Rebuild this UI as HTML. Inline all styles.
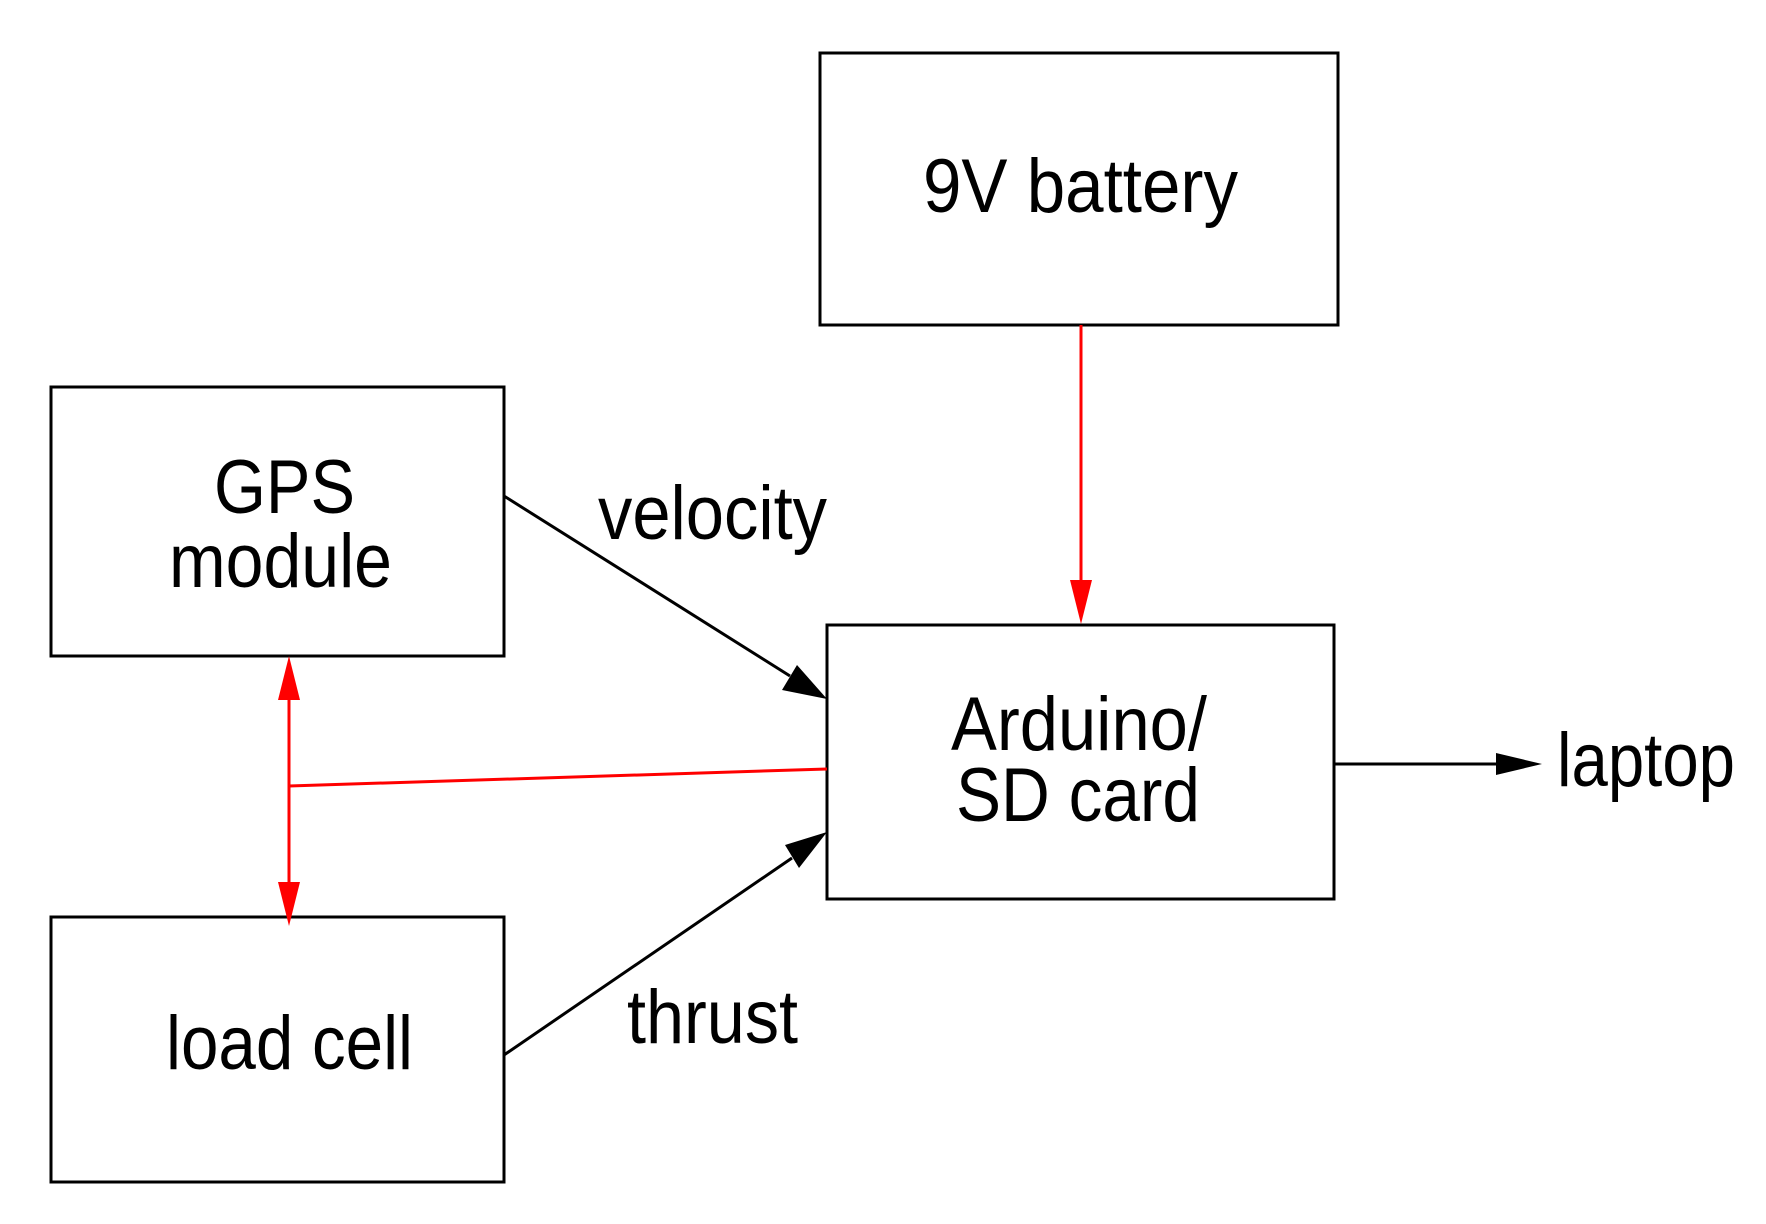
<!DOCTYPE html>
<html><head><style>html,body{margin:0;padding:0;background:#fff}</style></head><body>
<svg width="1766" height="1219" viewBox="0 0 1766 1219" xmlns="http://www.w3.org/2000/svg">
<defs>
<marker id="ab" markerWidth="12" markerHeight="8" refX="12" refY="4" orient="auto" markerUnits="userSpaceOnUse" viewBox="0 0 12 8"><path d="M0,0 L12,4 L0,8 z" fill="#000"/></marker>
</defs>
<g fill="#fff" stroke="#000" stroke-width="3">
<rect x="820" y="53" width="518" height="272"/>
<rect x="51" y="387" width="453" height="269"/>
<rect x="51" y="917" width="453" height="265"/>
<rect x="827" y="625" width="507" height="274"/>
</g>
<g stroke="#000" stroke-width="3">
<line x1="504" y1="496" x2="790" y2="676"/>
<line x1="504" y1="1055" x2="792" y2="858"/>
<line x1="1334" y1="764" x2="1500" y2="764"/>
</g>
<polygon points="827,699 782,690 797,665" fill="#000"/>
<polygon points="827,832 799,868 785,845" fill="#000"/>
<polygon points="1542,764 1496,753 1496,775" fill="#000"/>
<g stroke="#f00" stroke-width="3">
<line x1="1081" y1="325" x2="1081" y2="590"/>
<line x1="289" y1="690" x2="289" y2="890"/>
<line x1="289" y1="786" x2="827" y2="769"/>
</g>
<polygon points="1081,624 1070,580 1092,580" fill="#f00"/>
<polygon points="289,656 278,700 300,700" fill="#f00"/>
<polygon points="289,926 278,882 300,882" fill="#f00"/>
<g font-family="Liberation Sans, Arial, sans-serif" font-size="76" fill="#000">
<text x="923" y="212" textLength="315" lengthAdjust="spacingAndGlyphs">9V battery</text>
<text x="214" y="513" textLength="141" lengthAdjust="spacingAndGlyphs">GPS</text>
<text x="169" y="587" textLength="223" lengthAdjust="spacingAndGlyphs">module</text>
<text x="951" y="750" textLength="256" lengthAdjust="spacingAndGlyphs">Arduino/</text>
<text x="956" y="821" textLength="244" lengthAdjust="spacingAndGlyphs">SD card</text>
<text x="166" y="1069" textLength="247" lengthAdjust="spacingAndGlyphs">load cell</text>
<text x="598" y="539" textLength="229" lengthAdjust="spacingAndGlyphs">velocity</text>
<text x="627" y="1043" textLength="171" lengthAdjust="spacingAndGlyphs">thrust</text>
<text x="1557" y="786" textLength="178" lengthAdjust="spacingAndGlyphs">laptop</text>
</g>
</svg>
</body></html>
